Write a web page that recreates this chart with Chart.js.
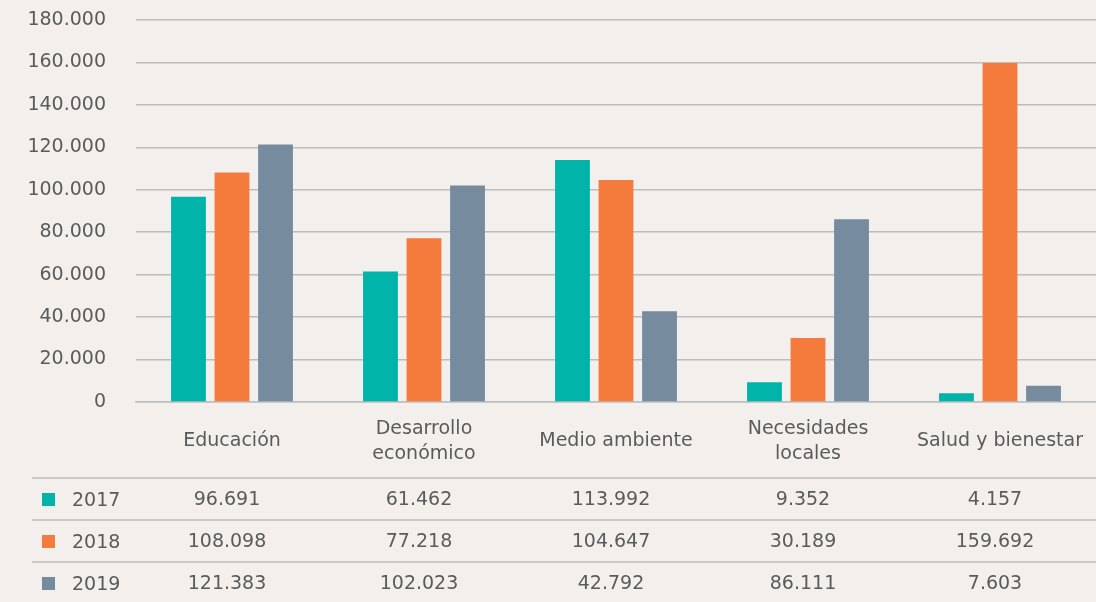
<!DOCTYPE html>
<html lang="es">
<head>
<meta charset="utf-8">
<title>Inversión por área</title>
<script src="https://cdn.jsdelivr.net/npm/chart.js@4.4.1/dist/chart.umd.min.js"></script>
<style>
  html, body { margin: 0; padding: 0; background: #f2efec; }
  #wrap { width: 1096px; height: 602px; position: relative; }
</style>
</head>
<body>
<div id="wrap"><canvas id="chart"></canvas></div>
<script>
// Areas and yearly amounts
const categories = [
  'Educación',
  ['Desarrollo', 'económico'],
  'Medio ambiente',
  ['Necesidades', 'locales'],
  'Salud y bienestar'
];
const years = ['2017', '2018', '2019'];
const values2017 = [96691, 61462, 113992, 9352, 4157];
const values2018 = [108098, 77218, 104647, 30189, 159692];
const values2019 = [121383, 102023, 42792, 86111, 7603];
const yTicks = [0, 20000, 40000, 60000, 80000, 100000, 120000, 140000, 160000, 180000];

const colors = ['#00b4aa', '#f57b3c', '#768b9e'];
const textColor = '#5b5b5b';
const gridColor = '#bdbdbd';
const clear = 'rgba(0,0,0,0)';
const fontFamily = '"DejaVu Sans", sans-serif';

// Spanish style thousands: 96.691
function formatNumber(v) {
  return String(v).replace(/\B(?=(\d{3})+(?!\d))/g, '.');
}

// Data table under the x axis, with the legend keys in the first column
const dataTablePlugin = {
  id: 'dataTable',
  afterDraw(chart) {
    const ctx = chart.ctx;
    const area = chart.chartArea;
    const xScale = chart.scales.x;
    const tableTop = area.bottom + 76;
    const rowHeight = 42;

    ctx.save();
    ctx.strokeStyle = gridColor;
    ctx.lineWidth = 1.5;
    for (let r = 0; r < chart.data.datasets.length; r++) {
      const y = tableTop + r * rowHeight;
      ctx.beginPath();
      ctx.moveTo(32, y);
      ctx.lineTo(chart.width, y);
      ctx.stroke();
    }

    ctx.font = '19px ' + fontFamily;
    ctx.textBaseline = 'middle';
    chart.data.datasets.forEach((ds, r) => {
      const cy = tableTop + r * rowHeight + 22;
      ctx.fillStyle = ds.backgroundColor;
      ctx.fillRect(42, cy - 7, 13, 13);
      ctx.fillStyle = textColor;
      ctx.textAlign = 'left';
      ctx.fillText(ds.label, 72, cy + 1);
      ctx.textAlign = 'center';
      ds.data.forEach((v, i) => {
        ctx.fillText(formatNumber(v), xScale.getPixelForValue(i) - 5, cy);
      });
    });
    ctx.restore();
  }
};

const ctx = document.getElementById('chart').getContext('2d');
const chart = new Chart(ctx, {
  type: 'bar',
  data: {
    labels: categories,
    datasets: [
      { label: years[0], data: values2017, backgroundColor: colors[0] },
      { label: years[1], data: values2018, backgroundColor: colors[1] },
      { label: years[2], data: values2019, backgroundColor: colors[2] }
    ]
  },
  options: {
    responsive: true,
    maintainAspectRatio: false,
    animation: false,
    categoryPercentage: 0.68,
    barPercentage: 0.8,
    layout: { padding: { top: 20, right: 0, left: 0, bottom: 0 } },
    plugins: {
      legend: { display: false },
      tooltip: { enabled: false }
    },
    scales: {
      x: {
        // invisible tick marks keep the labels away from the axis line
        grid: { color: clear, drawOnChartArea: false, tickLength: 27, tickColor: clear },
        border: { display: true, color: gridColor, width: 1.5 },
        ticks: {
          color: textColor,
          font: { family: fontFamily, size: 19, lineHeight: 1.3 },
          padding: 0,
          maxRotation: 0,
          crossAlign: 'center'
        },
        afterFit(axis) { axis.height = 200; }
      },
      y: {
        min: 0,
        max: 180000,
        afterBuildTicks(axis) { axis.ticks = yTicks.map(v => ({ value: v })); },
        grid: { color: gridColor, lineWidth: 1.5, tickLength: 30, tickColor: clear },
        border: { display: false },
        ticks: {
          color: textColor,
          font: { family: fontFamily, size: 19 },
          padding: 0,
          callback: v => formatNumber(v)
        },
        afterFit(axis) { axis.width = 136; }
      }
    }
  },
  plugins: [dataTablePlugin]
});
</script>
</body>
</html>
